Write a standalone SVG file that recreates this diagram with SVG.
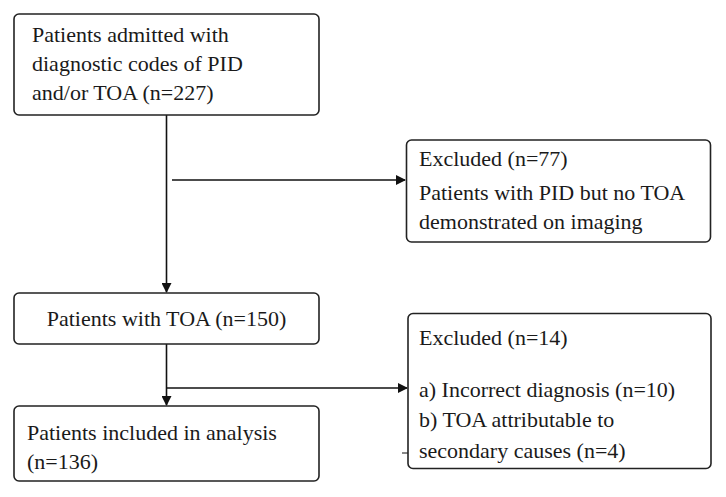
<svg xmlns="http://www.w3.org/2000/svg" width="726" height="497" viewBox="0 0 726 497">
<defs>
<style>
.box{fill:#fff;stroke:#222;stroke-width:1.6}
.t{font-family:'Liberation Serif','DejaVu Serif',serif;font-size:22px;fill:#1a1a1a}
.c{stroke:#111;stroke-width:1.6;fill:none}
</style>
<marker id="ah" markerWidth="10" markerHeight="10" refX="9" refY="5" orient="auto" markerUnits="userSpaceOnUse">
<path d="M0,0 L10,5 L0,10 z" fill="#111"/>
</marker>
</defs>
<rect width="726" height="497" fill="#fff"/>
<g id="connectors">
<line class="c" x1="166.5" y1="115" x2="166.5" y2="292" marker-end="url(#ah)"/>
<line class="c" x1="172" y1="180" x2="405" y2="180" marker-end="url(#ah)"/>
<line class="c" x1="166.5" y1="344" x2="166.5" y2="405" marker-end="url(#ah)"/>
<line class="c" x1="166.5" y1="388" x2="407" y2="388" marker-end="url(#ah)"/>
<line class="c" x1="402" y1="453" x2="408" y2="453" style="stroke-width:1"/>
</g>
<g id="n1">
<rect class="box" x="14" y="14" width="305" height="101" rx="5"/>
<text class="t" x="32" y="42">Patients admitted with</text>
<text class="t" x="32" y="71">diagnostic codes of PID</text>
<text class="t" x="32" y="100">and/or TOA (n=227)</text>
</g>
<g id="n2">
<rect class="box" x="406.5" y="140" width="304" height="102" rx="5"/>
<text class="t" x="419" y="166">Excluded (n=77)</text>
<text class="t" x="419" y="200">Patients with PID but no TOA</text>
<text class="t" x="419" y="229">demonstrated on imaging</text>
</g>
<g id="n3">
<rect class="box" x="14" y="293" width="305" height="51" rx="5"/>
<text class="t" x="166.5" y="326" text-anchor="middle">Patients with TOA (n=150)</text>
</g>
<g id="n4">
<rect class="box" x="408" y="313.5" width="303" height="155" rx="5"/>
<text class="t" x="419" y="345">Excluded (n=14)</text>
<text class="t" x="419" y="397">a) Incorrect diagnosis (n=10)</text>
<text class="t" x="419" y="427">b) TOA attributable to</text>
<text class="t" x="419" y="458">secondary causes (n=4)</text>
</g>
<g id="n5">
<rect class="box" x="14" y="406" width="305" height="75" rx="5"/>
<text class="t" x="27" y="440">Patients included in analysis</text>
<text class="t" x="27" y="469">(n=136)</text>
</g>
</svg>
